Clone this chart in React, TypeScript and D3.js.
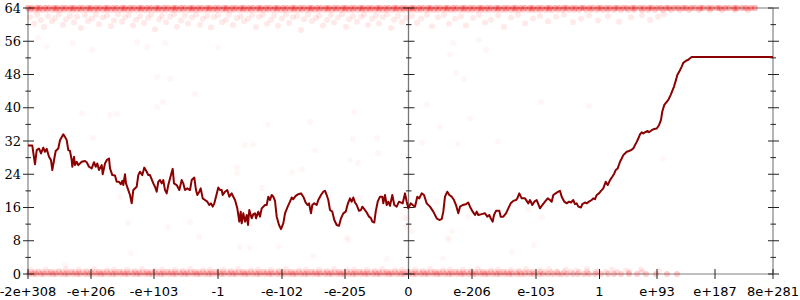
import React from "react";
import * as d3 from "d3";

// x is a bucket index (0..745) along the sorted float axis; y is the value (0..64)
const xTickBuckets = [0, 63, 126, 190, 254, 317, 380.5, 444, 508, 571.5, 629, 687, 745];
const xTickLabels = ["-2e+308", "-e+206", "-e+103", "-1", "-e-102", "-e-205", "0", "e-206", "e-103", "1", "e+93", "e+187", "8e+281"];
const yMajorTicks = [0, 8, 16, 24, 32, 40, 48, 56, 64];
const yMinorTicks = [4, 12, 20, 28, 36, 44, 52, 60];

const lineX = [0, 4.3, 7, 8.7, 11, 13, 15.3, 17, 18.7, 21, 23, 24.3, 26.3, 27.7, 30.3, 32, 35.3, 37, 38.7, 40.3, 42, 43.7, 44.3, 46, 47, 48.7, 50.3, 53.7, 57, 58.7, 61, 63.7, 66, 67.7, 69.3, 71, 73.7, 74.7, 77, 78.7, 81, 82, 84.3, 87, 88.7, 91, 92.7, 94.3, 95.3, 97, 98, 99.7, 102, 103.7, 105.3, 108.7, 110.3, 112, 114.3, 116.3, 118.7, 120.3,
  122, 125.3, 127, 128.7, 130.3, 132, 133.7, 135.3, 137, 138.7, 140.3, 142, 144.7, 146, 148.7, 151.3, 153.7, 155.3, 157, 159.3, 162, 163.7, 166.3, 168, 169.3, 171.3, 172.7, 174.7, 177, 179.3, 181.3, 183, 184.7, 186.3, 188, 190.3, 192, 193.7, 194.7, 197, 199.3, 201.3, 203.7, 205.3, 207, 209.3, 211.3, 212.7, 213.7, 215.3, 217, 218.7, 220, 221.3, 223.7, 225.3, 227, 228, 230.3, 232, 233.7, 237, 238.7, 240.3, 242, 243.7, 245.3,
  247, 248.7, 251, 253, 255.3, 257, 259.7, 262, 263.7, 265.3, 267.7, 270.3, 273, 275.3, 277.7, 279.7, 281, 283, 284.3, 286.3, 288.7, 290.3, 293, 295.3, 297, 298.7, 300.3, 302, 304.3, 306.3, 308.7, 311, 313, 315.3, 317.7, 319.7, 322, 323.7, 325.3, 327, 328.7, 331, 333, 334.3, 336.3, 338.7, 341, 343, 344.3, 346.3, 347.7, 349.7, 352, 354.3, 355.3, 357, 358.7, 360.3, 362, 364.3, 366.3, 368.7, 371,
  374.7, 377, 378.7, 380.3, 382.7, 384.7, 387, 389.3, 391.3, 393.7, 396, 398.7, 402, 405.3, 408.7, 411.3, 413.7, 415.3, 417, 419.3, 421.3, 423.7, 426, 428, 430.3, 432, 434.7, 438, 440.3, 442, 444.7, 447, 448.7, 450.3, 453.7, 457, 459.3, 461.3, 462.7, 464.7, 466, 468, 471.3, 472.7, 475.3, 478, 480.3, 482.7, 485.3, 488, 489.3, 491.3, 493.7,
  497, 500.3, 502, 504.3, 506.3, 508.7, 510.3, 512, 514.3, 517, 519.7, 522, 523.7, 525.3, 527.7, 530.3, 532, 533.7, 536.3, 538.7, 541, 543, 545.3, 547, 548.7, 550.3, 553, 554.3, 557, 558.7, 561, 563.7, 565.3, 567, 568.7, 571, 573, 575.3, 577.7, 579.7, 582, 584.3, 586.3, 587.7, 589.7, 592, 593.7, 595.3, 597, 598.7, 601, 603, 605.3, 607, 608.7, 610.3, 612, 613.7, 615.3, 617, 619.7, 621, 623.7, 626.3, 628.7, 631, 633, 634.3, 636.3,
  640.3, 642.7, 644.7, 646, 648, 649.3, 651.3, 653.7, 655.3, 658, 660, 662, 663.7, 745];
const lineY = [30.9, 30.9, 26.4, 29.8, 30.2, 29.0, 30.4, 29.4, 30.1, 28.2, 27.4, 25.0, 27.8, 29.6, 30.2, 32.2, 33.6, 33.0, 32.2, 29.8, 29.6, 27.4, 25.8, 28.2, 26.2, 27.0, 26.2, 27.0, 27.2, 26.9, 25.8, 25.4, 26.9, 25.8, 26.6, 25.0, 26.2, 24.0, 26.6, 27.4, 27.8, 25.4, 23.8, 23.7, 22.2, 22.2, 21.6, 22.4, 21.4, 24.0, 21.8, 20.6, 19.0, 17.0, 20.2, 21.0, 23.8, 24.6, 23.8, 25.6, 24.6, 23.8,
  23.8, 21.8, 21.0, 19.8, 22.2, 22.6, 21.8, 22.6, 20.2, 19.4, 21.4, 23.0, 25.3, 21.8, 21.4, 20.2, 22.6, 21.8, 20.2, 20.6, 20.2, 22.6, 23.2, 20.2, 19.0, 19.8, 20.6, 18.2, 17.8, 17.4, 16.6, 17.0, 16.2, 17.0, 18.6, 20.8, 20.2, 20.2, 19.0, 19.8, 20.2, 18.6, 19.4, 18.6, 17.8, 15.8, 12.6, 15.0, 12.2, 14.6, 12.6, 14.2, 11.8, 15.4, 13.4, 14.4, 14.6, 13.4, 15.0, 13.8, 15.8, 16.6, 16.6, 18.6, 17.8, 19.0, 18.6,
  17.6, 13.8, 11.8, 10.8, 12.2, 14.6, 16.2, 17.4, 18.4, 18.0, 18.8, 19.2, 19.4, 18.6, 17.2, 16.6, 17.0, 14.6, 16.6, 17.0, 16.6, 17.8, 19.0, 19.8, 20.0, 19.0, 17.8, 15.4, 15.0, 13.0, 11.8, 11.6, 13.4, 14.6, 15.0, 16.8, 18.2, 17.4, 18.4, 17.2, 16.6, 15.2, 15.4, 16.2, 15.6, 14.8, 13.8, 13.4, 12.6, 12.4, 15.0, 17.4, 18.6, 18.6, 17.0, 19.0, 16.6, 17.4, 16.4, 19.0, 16.6, 16.2, 17.4,
  17.0, 19.4, 17.4, 15.8, 17.0, 16.6, 16.2, 18.6, 18.2, 19.4, 19.0, 17.0, 16.2, 15.0, 13.4, 13.0, 13.2, 15.0, 18.6, 19.8, 19.0, 18.6, 17.8, 16.6, 14.6, 16.2, 16.6, 16.8, 17.2, 16.2, 15.0, 14.2, 15.0, 14.2, 14.4, 14.6, 13.8, 14.2, 13.4, 12.6, 14.2, 15.2, 15.2, 13.8, 13.8, 14.6, 15.8, 17.0, 17.6, 17.8, 18.2, 19.4, 18.2,
  18.2, 17.0, 17.8, 16.6, 17.4, 17.8, 16.8, 15.8, 16.6, 17.4, 18.2, 17.8, 17.4, 19.0, 19.4, 19.8, 20.0, 18.6, 17.4, 17.0, 17.4, 17.2, 17.8, 16.8, 17.0, 16.2, 16.0, 16.8, 17.2, 17.0, 17.4, 17.8, 18.2, 18.0, 19.0, 19.4, 20.0, 20.6, 22.2, 21.4, 22.6, 23.4, 24.2, 25.0, 25.4, 27.0, 27.8, 28.6, 29.0, 29.4, 29.6, 29.8, 30.2, 31.0, 31.8, 32.6, 33.6, 34.1, 33.8, 34.1, 34.4, 34.1, 34.6, 34.9, 35.0, 35.8, 37.1, 39.1, 40.7,
  41.9, 43.1, 44.3, 45.1, 46.7, 47.9, 48.7, 49.9, 50.8, 51.3, 51.5, 51.9, 52.2, 52.2];

// dense rows of samples at the maximum (64 and just below)
const topRowX = [0, 4, 9, 12, 17, 21, 26, 29, 34, 38, 43, 46, 51, 55, 60, 63, 68, 72, 77, 80, 85, 89, 94, 97, 102, 106, 111, 114, 119, 123, 128, 131, 136, 140, 145, 148, 153, 157, 162, 165, 170, 174, 179, 182, 187, 191, 196, 199, 204, 208, 213, 216, 221, 225, 230, 233, 238, 242, 247, 250, 255, 259, 264, 267, 272, 276, 281, 284, 289, 293, 298, 301, 306, 310, 315, 318, 323, 327, 332, 335, 340, 344, 349, 352, 357, 361, 366, 369, 374, 378, 383, 386, 391, 395, 400, 403, 408, 412, 417, 420, 425, 429, 434, 437, 442, 446, 451, 454, 459, 463, 468, 471, 476, 480, 485, 488, 493, 497, 502, 505, 510, 514, 519, 522, 527, 531, 536, 539, 544, 548, 553, 556, 561, 565, 570, 573, 578, 582, 587, 590, 595, 599, 604, 607, 612, 616, 621, 624, 629, 633, 638, 641, 646, 650, 655, 658, 663, 667, 672, 675, 680, 684, 689, 692, 697, 701, 706, 709, 714, 718, 723, 727];
const topRow2X = [2, 7, 11, 15, 19, 24, 28, 32, 36, 41, 45, 49, 53, 58, 62, 66, 70, 75, 79, 83, 87, 92, 96, 100, 104, 109, 113, 117, 121, 126, 130, 134, 138, 143, 147, 151, 155, 160, 164, 168, 172, 177, 181, 185, 189, 194, 198, 202, 206, 211, 215, 219, 223, 228, 232, 236, 240, 245, 249, 253, 257, 262, 266, 270, 274, 279, 283, 287, 291, 296, 300, 304, 308, 313, 317, 321, 325, 330, 334, 338, 342, 347, 351, 355, 359, 364, 368, 372, 376, 381, 385, 389, 393, 398, 402, 406, 410, 415, 419, 423, 427, 432, 436, 440, 444, 449, 453, 457, 461, 466, 470, 474, 478, 483, 487, 491, 495, 500, 504, 508, 512, 517, 521, 525, 530, 535, 541, 546, 551, 558, 563, 569, 575, 580, 586, 593, 600, 606, 614, 620, 627, 635, 643, 652, 661, 671, 682, 694, 707, 720];

const topScatterX = [2, 6, 9, 13, 16, 20, 24, 27, 31, 35, 38, 42, 46, 49, 53, 57, 60, 64, 68, 71, 75, 79, 83, 86, 90, 94, 97, 101, 105, 108, 112, 116, 120, 123, 127, 131, 134, 138, 142, 146, 149, 153, 157, 160, 164, 168, 172, 175, 179, 183, 186, 190, 194, 198, 201, 205, 209, 213, 216, 220, 224, 228, 231, 235, 239, 243, 246, 250, 254, 258, 261, 265, 269, 273, 276, 280, 284, 288, 291, 295, 299, 303, 306, 310, 314, 318, 321, 325, 329, 333, 336, 340, 344, 348, 351, 355, 359, 363, 366, 370, 374, 378,
  384, 389, 393, 399, 404, 410, 416, 421, 427, 433, 438, 445, 451, 457, 463, 470, 476, 483, 490, 497, 505, 512, 520, 528, 536, 545, 553, 561, 570, 580, 591, 603, 614, 622, 630, 636];
const topScatterV = [61.8, 60.2, 62.4, 61.1, 59.4, 62.0, 60.8, 61.6, 62.5, 59.9, 61.3, 62.1, 60.5, 61.9, 59.2, 62.3, 60.9, 61.5, 62.4, 60.1, 61.7, 62.2, 59.6, 61.0, 62.5, 60.7, 61.8, 62.3, 59.8, 61.2, 62.0, 60.4, 61.6, 62.4, 58.9, 61.3, 62.1, 60.6, 61.9, 62.5, 59.5, 61.0, 62.2, 60.3, 61.7, 62.4, 60.0, 61.4, 62.1, 59.3, 61.8, 62.3, 60.6, 61.2, 62.5, 59.9, 61.6, 62.0, 60.8, 61.4, 62.3, 59.4, 61.9, 62.4, 60.2, 61.1, 62.2, 59.7, 61.5, 62.5, 60.4, 61.8, 62.1, 58.7, 61.3, 62.4, 60.9, 61.6, 62.2, 59.8, 61.1, 62.3, 60.5, 61.7, 62.5, 59.5, 61.3, 62.0, 60.7, 61.9, 62.4, 59.9, 61.4, 62.2, 60.3, 61.8, 62.5, 59.2, 61.2, 62.1, 60.6, 61.6,
  62.1, 60.4, 61.5, 62.4, 59.6, 61.8, 62.3, 60.2, 61.4, 62.0, 59.8, 61.6, 62.4, 60.5, 61.2, 62.2, 59.5, 61.7, 62.4, 60.3, 61.5, 62.1, 60.8, 61.9, 62.4, 60.6, 61.4, 62.2, 61.0, 62.0, 60.7, 61.8, 62.3, 61.1, 61.9, 62.5];

// dense rows of samples at the minimum (0 and just above)
const bottomRowX = [1, 5, 8, 13, 16, 21, 25, 28, 33, 37, 40, 45, 49, 52, 57, 61, 64, 69, 73, 76, 81, 85, 88, 93, 97, 100, 105, 109, 112, 117, 121, 124, 129, 133, 136, 141, 145, 148, 153, 157, 160, 165, 169, 172, 177, 181, 184, 189, 193, 196, 201, 205, 208, 213, 217, 220, 225, 229, 232, 237, 241, 244, 249, 253, 256, 261, 265, 268, 273, 277, 280, 285, 289, 292, 297, 301, 304, 309, 313, 316, 321, 325, 328, 333, 337, 340, 345, 349, 352, 357, 361, 364, 369, 373, 376, 381, 385, 388, 393, 397, 400, 405, 409, 412, 417, 421, 424, 429, 433, 436, 441, 445, 448, 453, 457, 460, 465, 469, 472, 477, 481, 484, 489, 493, 497, 502, 506, 511, 515, 520, 525, 530, 534, 539, 545, 550, 556, 561, 567, 573, 580, 586, 593, 601, 609, 618, 628, 639, 649];
const bottomRow2X = [3, 7, 11, 15, 19, 23, 27, 31, 35, 39, 43, 47, 51, 55, 59, 63, 67, 71, 75, 79, 83, 87, 91, 95, 99, 103, 107, 111, 115, 119, 123, 127, 131, 135, 139, 143, 147, 151, 155, 159, 163, 167, 171, 175, 179, 183, 187, 191, 195, 199, 203, 207, 211, 215, 219, 223, 227, 231, 235, 239, 243, 247, 251, 255, 259, 263, 267, 271, 275, 279, 283, 287, 291, 295, 299, 303, 307, 311, 315, 319, 323, 327, 331, 335, 339, 343, 347, 351, 355, 359, 363, 367, 371, 375, 379, 383, 387, 391, 395, 399, 403, 407, 411, 415, 419, 423, 427, 431, 435, 439, 443, 447, 451, 455, 459, 463, 467, 471, 475, 479, 483, 488, 492, 497, 501, 506, 512, 517, 523, 529, 536, 543, 551, 559, 568, 578, 589, 601, 614];

const bottomScatterX = [3, 10, 18, 23, 31, 38, 44, 51, 58, 66, 71, 79, 86, 92, 99, 107, 114, 119, 127, 134, 140, 147, 155, 162, 167, 175, 182, 188, 195, 203, 210, 215, 223, 230, 236, 243, 251, 258, 263, 271, 278, 284, 291, 299, 306, 311, 319, 326, 332, 339, 347, 354, 359, 367, 374, 380, 387, 395, 402, 407, 415, 422, 428, 435, 443, 450, 455, 463, 470, 476, 483, 491, 498, 504, 512, 521, 529, 538, 548, 559, 570, 584, 598, 613, 631];
const bottomScatterV = [0.9, 0.6, 1.1, 0.5, 0.8, 1.2, 0.6, 1.0, 0.7, 1.2, 0.5, 0.9, 1.1, 0.6, 1.0, 0.7, 1.2, 0.5, 0.9, 1.1, 0.6, 1.0, 0.8, 1.2, 0.5, 0.9, 1.1, 0.6, 1.0, 0.7, 1.2, 0.5, 0.9, 1.1, 0.6, 1.0, 0.8, 1.2, 0.5, 0.9, 1.1, 0.6, 1.0, 0.7, 1.2, 0.5, 0.9, 1.1, 0.6, 1.0, 0.8, 1.2, 0.5, 0.9, 1.1, 0.6, 1.0, 0.7, 1.2, 0.5, 0.9, 1.1, 0.6, 1.0, 0.8, 1.2, 0.5, 0.9, 1.1, 0.6, 1.0, 0.8, 1.2, 0.5, 0.9, 1.1, 0.6, 1.0, 0.8, 1.2, 0.6, 1.0, 0.8, 1.1, 0.7];

// sparse samples in the middle of the range
const midScatterX = [54, 82, 89, 129, 135, 65, 240, 282, 287, 217, 225, 264, 274, 234, 209, 209, 326, 349, 325, 322, 330, 350, 332, 92, 100, 140, 162, 171, 245, 319, 376, 378, 412, 394, 430, 470, 379, 384, 424, 440, 399, 513, 561, 442, 425, 451, 422, 458, 428, 436, 635, 409, 500, 514, 420, 37, 103, 212, 222, 251, 285, 359, 320, 415, 484, 506, 421, 19, 10, 45, 64, 109, 119, 129, 142, 167, 137, 190];
const midScatterV = [38.7, 38.3, 38.5, 40.2, 41.4, 32.7, 35.9, 36.6, 29.8, 31.0, 31.2, 24.5, 25.2, 20.7, 25.7, 24.3, 39.0, 32.7, 32.5, 27.4, 26.7, 29.1, 18.3, 18.5, 12.3, 11.3, 12.5, 8.9, 11.8, 8.7, 13.5, 11.3, 35.4, 31.6, 31.3, 31.8, 13.5, 10.3, 10.3, 13.9, 40.7, 41.4, 40.4, 37.5, 55.6, 56.3, 52.9, 53.9, 48.4, 46.9, 27.7, 17.3, 15.6, 13.7, 8.7, 2.2, 5.0, 6.5, 6.3, 6.7, 4.3, 3.6, 8.2, 3.8, 5.3, 7.0, 8.2, 54.8, 56.8, 55.6, 53.9, 55.8, 54.6, 47.4, 46.9, 43.3, 55.6, 54.5];

export default function App() {
  const W = 800;
  const H = 300;
  const x = d3.scaleLinear().domain([0, 745]).range([28, 773]);
  const y = d3.scaleLinear().domain([0, 64]).range([274, 8]);
  const linePts: [number, number][] = lineX.map((b, i) => [b, lineY[i]]);
  const path = d3
    .line<[number, number]>()
    .x((d) => x(d[0]))
    .y((d) => y(d[1]))(linePts) as string;

  const axisXs = [x(0), x(380.5), x(745)];

  const dotGroups: { xs: number[]; vs: number[]; op: number }[] = [
    { xs: topRowX, vs: topRowX.map(() => 64), op: 0.32 },
    { xs: topRow2X, vs: topRow2X.map(() => 63.6), op: 0.18 },
    { xs: topScatterX, vs: topScatterV, op: 0.085 },
    { xs: bottomRowX, vs: bottomRowX.map(() => 0), op: 0.2 },
    { xs: bottomRow2X, vs: bottomRow2X.map(() => 0.5), op: 0.12 },
    { xs: bottomScatterX, vs: bottomScatterV, op: 0.08 },
    { xs: midScatterX, vs: midScatterV, op: 0.035 },
  ];

  return (
    <svg
      width={W}
      height={H}
      style={{ position: "absolute", left: 0, top: 0, background: "#fff" }}
    >
      {/* frame */}
      <line x1={x(0)} x2={x(745)} y1={y(64)} y2={y(64)} stroke="#aaa" strokeWidth={1.5} />
      <line x1={x(0)} x2={x(745)} y1={y(0)} y2={y(0)} stroke="#aaa" strokeWidth={1.5} />
      <line x1={axisXs[0]} x2={axisXs[0]} y1={y(64)} y2={y(0)} stroke="#b4b4b4" strokeWidth={2} />
      <line x1={axisXs[1]} x2={axisXs[1]} y1={y(64)} y2={y(0)} stroke="#777" strokeWidth={1.3} />
      <line x1={axisXs[2]} x2={axisXs[2]} y1={y(64)} y2={y(0)} stroke="#b4b4b4" strokeWidth={2} />

      {/* sample dots */}
      {dotGroups.map((g, gi) => (
        <g key={gi} fill="#ff0000" fillOpacity={g.op}>
          {g.xs.map((b, i) => (
            <circle key={i} cx={x(b)} cy={y(g.vs[i])} r={3} />
          ))}
        </g>
      ))}

      {/* y ticks on the three vertical axes */}
      {axisXs.map((ax, ai) => (
        <g key={ai} stroke="#222" strokeWidth={1}>
          {yMajorTicks.map((t) => (
            <line key={"M" + t} x1={ax - 5} x2={ax + 6} y1={y(t)} y2={y(t)} />
          ))}
          {yMinorTicks.map((t) => (
            <line key={"m" + t} x1={ax - 2.5} x2={ax + 3} y1={y(t)} y2={y(t)} />
          ))}
        </g>
      ))}
      {yMajorTicks.map((t) => (
        <text
          key={t}
          x={21}
          y={y(t) + 4.7}
          textAnchor="end"
          fontFamily="DejaVu Serif"
          fontSize={13}
          fill="#000"
        >
          {t}
        </text>
      ))}

      {/* x ticks */}
      {xTickBuckets.map((b, i) => (
        <g key={i}>
          <line x1={x(b)} x2={x(b)} y1={y(0) - 5} y2={y(0) + 5} stroke="#222" strokeWidth={1} />
          <text
            x={x(b)}
            y={295.5}
            textAnchor="middle"
            fontFamily="DejaVu Sans"
            fontSize={13}
            fill="#000"
          >
            {xTickLabels[i]}
          </text>
        </g>
      ))}

      {/* value line */}
      <path d={path} fill="none" stroke="#8b0000" strokeWidth={2} strokeLinejoin="round" />
    </svg>
  );
}
